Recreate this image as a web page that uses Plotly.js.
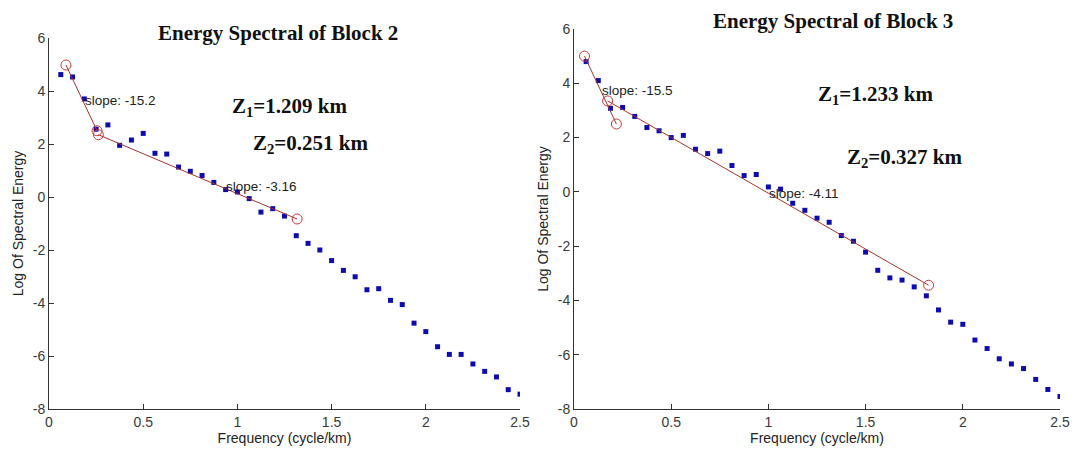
<!DOCTYPE html>
<html>
<head>
<meta charset="utf-8">
<script src="https://cdn.plot.ly/plotly-3.0.1.min.js"></script>
<style>
  html, body { margin: 0; padding: 0; background: #ffffff; }
  #chart { width: 1073px; height: 451px; }
</style>
</head>
<body>
<div id="chart"></div>
<script>
// ---- data ----
const frequency = [0.0625, 0.125, 0.1875, 0.25, 0.3125, 0.375, 0.4375, 0.5, 0.5625, 0.625,
  0.6875, 0.75, 0.8125, 0.875, 0.9375, 1.0, 1.0625, 1.125, 1.1875, 1.25,
  1.3125, 1.375, 1.4375, 1.5, 1.5625, 1.625, 1.6875, 1.75, 1.8125, 1.875,
  1.9375, 2.0, 2.0625, 2.125, 2.1875, 2.25, 2.3125, 2.375, 2.4375, 2.5];

const block2Energy = [4.62, 4.53, 3.70, 2.56, 2.72, 1.95, 2.15, 2.40, 1.65, 1.62,
  1.13, 0.97, 0.81, 0.55, 0.28, 0.19, -0.06, -0.57, -0.44, -0.72,
  -1.46, -1.75, -2.00, -2.40, -2.77, -3.01, -3.50, -3.46, -3.90, -4.06,
  -4.76, -5.08, -5.65, -5.94, -5.94, -6.30, -6.58, -6.79, -7.27, -7.44];

const block3Energy = [4.80, 4.10, 3.08, 3.11, 2.78, 2.37, 2.25, 2.00, 2.08, 1.57,
  1.41, 1.50, 0.97, 0.60, 0.64, 0.18, 0.10, -0.42, -0.68, -0.97,
  -1.12, -1.61, -1.82, -2.22, -2.89, -3.17, -3.25, -3.50, -3.83, -4.35,
  -4.80, -4.88, -5.46, -5.77, -6.15, -6.34, -6.51, -6.91, -7.28, -7.54];

// fitted segments (end points marked with circles)
const block2DeepFreq = [0.09, 0.255];
const block2DeepFit = [4.98, 2.50];
const block2ShallowFreq = [0.262, 1.317];
const block2ShallowFit = [2.35, -0.83];

const block3DeepFreq = [0.054, 0.218];
const block3DeepFit = [5.00, 2.50];
const block3ShallowFreq = [0.173, 1.824];
const block3ShallowFit = [3.35, -3.44];

const titles = ["Energy Spectral of Block 2", "Energy Spectral of Block 3"];
const slopeLabels2 = ["slope: -15.2", "slope: -3.16"];
const slopeLabels3 = ["slope: -15.5", "slope: -4.11"];
const depthLabels2 = ["Z<sub>1</sub>=1.209 km", "Z<sub>2</sub>=0.251 km"];
const depthLabels3 = ["Z<sub>1</sub>=1.233 km", "Z<sub>2</sub>=0.327 km"];

const xTickVals = [0, 0.5, 1, 1.5, 2, 2.5];
const xTickText = ["0", "0.5", "1", "1.5", "2", "2.5"];
const yTickVals = [-8, -6, -4, -2, 0, 2, 4, 6];
const yTickText = ["-8", "-6", "-4", "-2", "0", "2", "4", "6"];

// ---- styling ----
const W = 1073, H = 451;
const pointColor = "#0c0cb0";
const fitColor = "#a8322c";
const circleColor = "#cc3a3a";
const sans = "Liberation Sans, Arial, sans-serif";
const serif = "Liberation Serif, Times New Roman, serif";

function scatter(x, y, xa, ya, name) {
  return { x: x, y: y, xaxis: xa, yaxis: ya, name: name, type: "scatter", mode: "markers",
    marker: { symbol: "square", size: 5, color: pointColor }, hoverinfo: "x+y" };
}
function fit(x, y, xa, ya, name) {
  return { x: x, y: y, xaxis: xa, yaxis: ya, name: name, type: "scatter", mode: "lines+markers",
    line: { color: fitColor, width: 1 },
    marker: { symbol: "circle-open", size: 10, color: circleColor, line: { width: 1, color: circleColor } } };
}

const traces = [
  scatter(frequency, block2Energy, "x", "y", "Block 2"),
  fit(block2DeepFreq, block2DeepFit, "x", "y", "Block 2 deep"),
  fit(block2ShallowFreq, block2ShallowFit, "x", "y", "Block 2 shallow"),
  scatter(frequency, block3Energy, "x2", "y2", "Block 3"),
  fit(block3DeepFreq, block3DeepFit, "x2", "y2", "Block 3 deep"),
  fit(block3ShallowFreq, block3ShallowFit, "x2", "y2", "Block 3 shallow")
];

function xAxis(domain, anchor) {
  return { domain: domain, anchor: anchor, range: [0, 2.5], tickmode: "array",
    tickvals: xTickVals, ticktext: xTickText, ticks: "inside", ticklen: 5, tickcolor: "#333",
    showline: true, linecolor: "#333", linewidth: 1, showgrid: false, zeroline: false,
    tickfont: { family: sans, size: 14, color: "#3a3a3a" },
    title: { text: "Frequency (cycle/km)", font: { family: sans, size: 14, color: "#222" }, standoff: 1 } };
}
function yAxis(domain, anchor) {
  return { domain: domain, anchor: anchor, range: [-8, 6], tickmode: "array",
    tickvals: yTickVals, ticktext: yTickText, ticks: "inside", ticklen: 5, tickcolor: "#333",
    showline: true, linecolor: "#333", linewidth: 1, showgrid: false, zeroline: false,
    tickfont: { family: sans, size: 14, color: "#3a3a3a" },
    title: { text: "Log Of Spectral Energy", font: { family: sans, size: 14, color: "#222" }, standoff: 5 } };
}

const annotations = [];
function note(text, x, y, xref, yref, font, xanchor) {
  annotations.push({ text: text, x: x, y: y, xref: xref, yref: yref, showarrow: false,
    xanchor: xanchor, yanchor: "middle", font: font });
}
const titleFont = { family: serif, size: 21, color: "#111" };
const zFont = { family: serif, size: 21, color: "#111" };
const slopeFont = { family: sans, size: 13.5, color: "#222" };

note("<b>" + titles[0] + "</b>", 278 / W, 1 - 33 / H, "paper", "paper", titleFont, "center");
note("<b>" + titles[1] + "</b>", 833 / W, 1 - 21 / H, "paper", "paper", titleFont, "center");

note(slopeLabels2[0], 0.18, 3.65, "x", "y", slopeFont, "left");
note(slopeLabels2[1], 0.93, 0.38, "x", "y", slopeFont, "left");
note(slopeLabels3[0], 0.134, 3.73, "x2", "y2", slopeFont, "left");
note(slopeLabels3[1], 0.994, -0.06, "x2", "y2", slopeFont, "left");

note("<b>" + depthLabels2[0] + "</b>", 1.28, 3.40, "x", "y", zFont, "center");
note("<b>" + depthLabels2[1] + "</b>", 1.39, 1.99, "x", "y", zFont, "center");
note("<b>" + depthLabels3[0] + "</b>", 1.556, 3.57, "x2", "y2", zFont, "center");
note("<b>" + depthLabels3[1] + "</b>", 1.705, 1.23, "x2", "y2", zFont, "center");

const layout = {
  width: W, height: H,
  margin: { l: 0, r: 0, t: 0, b: 0 },
  paper_bgcolor: "#ffffff", plot_bgcolor: "#ffffff",
  showlegend: false,
  xaxis: xAxis([49 / W, 520 / W], "y"),
  yaxis: yAxis([(H - 409) / H, (H - 38) / H], "x"),
  xaxis2: xAxis([574 / W, 1060 / W], "y2"),
  yaxis2: yAxis([(H - 409) / H, (H - 29) / H], "x2"),
  annotations: annotations
};

Plotly.newPlot("chart", traces, layout, { displayModeBar: false, staticPlot: true });
</script>
</body>
</html>
